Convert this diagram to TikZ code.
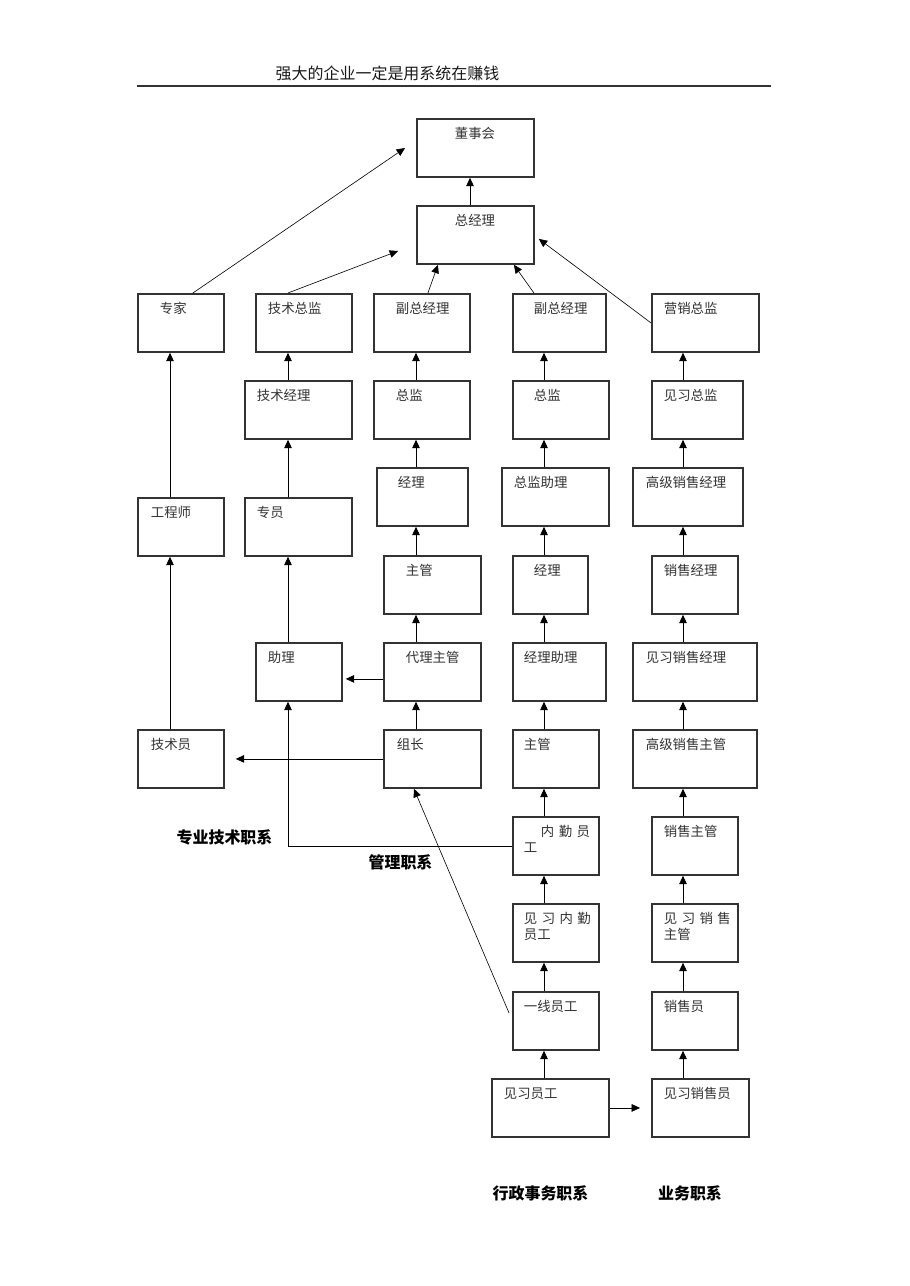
\documentclass[tikz,border=0pt]{standalone}
\usepackage{fontspec}
\usepackage{tikz}
\usetikzlibrary{arrows.meta, positioning}
\newfontfamily\cjk{Noto Sans CJK SC}
\newdimen\pxu \pxu=0.65731pt
\definecolor{boxgray}{HTML}{333333}
\tikzset{
->, % every connector points upwards to the next rank
>={Triangle[length=5.5pt, width=5pt]}, % filled triangle heads
line width=0.8pt,
job/.style 2 args={draw=boxgray, line width=1.2pt, anchor=north west, inner ysep=0pt, inner xsep=#2*\pxu, text width=(#1-2*#2)*\pxu, align=left, text height=20*\pxu, text depth=38*\pxu, text=boxgray, font=\cjk\fontsize{8.8}{10.5}\selectfont}, % a rank box: width and text indent in pixels
jobfamily/.style={font=\cjk\bfseries\fontsize{10.5}{12}\selectfont, text=black}, % the names of the four job families
headline/.style={font=\cjk\fontsize{10.5}{12}\selectfont, text=black!90},
}

\begin{document}
\begin{tikzpicture}[x=0.65731pt, y=-0.65731pt]
\path[use as bounding box, fill=white] (0,0) rectangle (909,1286);
\node[headline] (title) at (387.5,73) {强大的企业一定是用系统在赚钱};
\draw[-, draw=boxgray, line width=1pt] (137,86) -- (771,86);

% x of the upward arrows in each column
\coordinate (c0) at (470,0);
\coordinate (c1) at (170,0);
\coordinate (c2) at (288,0);
\coordinate (c3) at (416,0);
\coordinate (c4) at (544,0);
\coordinate (c5) at (683,0);
\coordinate (boardtip) at (405,148);
\coordinate (gmtip) at (398,251);

\node[job={117}{38}] (dsh) at (416,118) {董事会};
\node[job={117}{38}] (zjl) at (416,205) {总经理};

\node[job={86}{22}] (zj) at (137,293) {专家};
\node[job={96}{12}] (jszj) at (255,293) {技术总监};
\node[job={96}{22}] (fzjl1) at (373,293) {副总经理};
\node[job={93}{21}] (fzjl2) at (512,293) {副总经理};
\node[job={107}{12}] (yxzj) at (651,293) {营销总监};

\node[job={107}{12}] (jsjl) at (244,380) {技术经理};
\node[job={96}{22}] (zjan1) at (373,380) {总监};
\node[job={96}{21}] (zjan2) at (512,380) {总监};
\node[job={91}{12}] (jxzj) at (651,380) {见习总监};

\node[job={91}{21}] (jl1) at (376,467) {经理};
\node[job={107}{12}] (zjzl) at (501,467) {总监助理};
\node[job={110}{13}] (gjxsjl) at (632,467) {高级销售经理};
\node[job={86}{13}] (gcs) at (137,497) {工程师};
\node[job={107}{12}] (zy) at (244,497) {专员};

\node[job={97}{22}] (zg1) at (383,555) {主管};
\node[job={75}{21}] (jl2) at (512,555) {经理};
\node[job={86}{12}] (xsjl) at (651,555) {销售经理};

\node[job={86}{12}] (zl) at (255,642) {助理};
\node[job={97}{22}] (dlzg) at (383,642) {代理主管};
\node[job={93}{11}] (jlzl) at (512,642) {经理助理};
\node[job={124}{13}] (jxxsjl) at (632,642) {见习销售经理};

\node[job={86}{13}] (jsy) at (137,729) {技术员};
\node[job={97}{13}] (zz) at (383,729) {组长};
\node[job={86}{11}] (zg2) at (512,729) {主管};
\node[job={124}{13}] (gjxszg) at (632,729) {高级销售主管};

\node[job={86}{11}] (nqyg) at (512,816) {\hspace*{17\pxu}内~勤~员\\工};
\node[job={86}{12}] (xszg) at (651,816) {销售主管};
\node[job={86}{11}] (jxnqyg) at (512,903) {见~习~内~勤\\员工};
\node[job={86}{12}] (jxxszg) at (651,903) {见~习~销~售\\主管};
\node[job={86}{11}] (yxyg) at (512,991) {一线员工};
\node[job={86}{12}] (xsy) at (651,991) {销售员};
\node[job={117}{12}] (jxyg) at (491,1078) {见习员工};
\node[job={97}{12}] (jxxsy) at (651,1078) {见习销售员};

\node[jobfamily] (zyjs) at (224.5,837) {专业技术职系};
\node[jobfamily] (gl) at (400.5,862) {管理职系};
\node[jobfamily] (xzsw) at (540.5,1193) {行政事务职系};
\node[jobfamily] (yw) at (690,1193) {业务职系};

\path
(zjl.north -| c0) edge (dsh.south -| c0)
(jsy.north -| c1) edge (gcs.south -| c1)
(gcs.north -| c1) edge (zj.south -| c1)
(zl.north -| c2) edge (zy.south -| c2)
(zy.north -| c2) edge (jsjl.south -| c2)
(jsjl.north -| c2) edge (jszj.south -| c2)
(zz.north -| c3) edge (dlzg.south -| c3)
(dlzg.north -| c3) edge (zg1.south -| c3)
(zg1.north -| c3) edge (jl1.south -| c3)
(jl1.north -| c3) edge (zjan1.south -| c3)
(zjan1.north -| c3) edge (fzjl1.south -| c3)
(jxyg.north -| c4) edge (yxyg.south -| c4)
(yxyg.north -| c4) edge (jxnqyg.south -| c4)
(jxnqyg.north -| c4) edge (nqyg.south -| c4)
(nqyg.north -| c4) edge (zg2.south -| c4)
(zg2.north -| c4) edge (jlzl.south -| c4)
(jlzl.north -| c4) edge (jl2.south -| c4)
(jl2.north -| c4) edge (zjzl.south -| c4)
(zjzl.north -| c4) edge (zjan2.south -| c4)
(zjan2.north -| c4) edge (fzjl2.south -| c4)
(jxxsy.north -| c5) edge (xsy.south -| c5)
(xsy.north -| c5) edge (jxxszg.south -| c5)
(jxxszg.north -| c5) edge (xszg.south -| c5)
(xszg.north -| c5) edge (gjxszg.south -| c5)
(gjxszg.north -| c5) edge (jxxsjl.south -| c5)
(jxxsjl.north -| c5) edge (xsjl.south -| c5)
(xsjl.north -| c5) edge (gjxsjl.south -| c5)
(gjxsjl.north -| c5) edge (jxzj.south -| c5)
(jxzj.north -| c5) edge (yxzj.south -| c5)
([shift={(12,0)}]zj.north) edge (boardtip)
([shift={(-16,0)}]jszj.north) edge (gmtip)
([shift={(6,0)}]fzjl1.north) edge ([shift={(-37.5,0)}]zjl.south)
([shift={(-25.5,0)}]fzjl2.north) edge ([shift={(38.5,0)}]zjl.south)
(yxzj.west) edge ([shift={(4,4)}]zjl.east)
([shift={(0,7)}]dlzg.west) edge ([shift={(3,7)}]zl.east)
(zz.west) edge ([shift={(11,0)}]jsy.east)
([shift={(-3,-8)}]yxyg.west) edge ([shift={(-18.5,0)}]zz.south)
(jxyg.east) edge ([shift={(-11,0)}]jxxsy.west)
;
\draw (nqyg.west) -| (zl.south -| c2);
\end{tikzpicture}
\end{document}
